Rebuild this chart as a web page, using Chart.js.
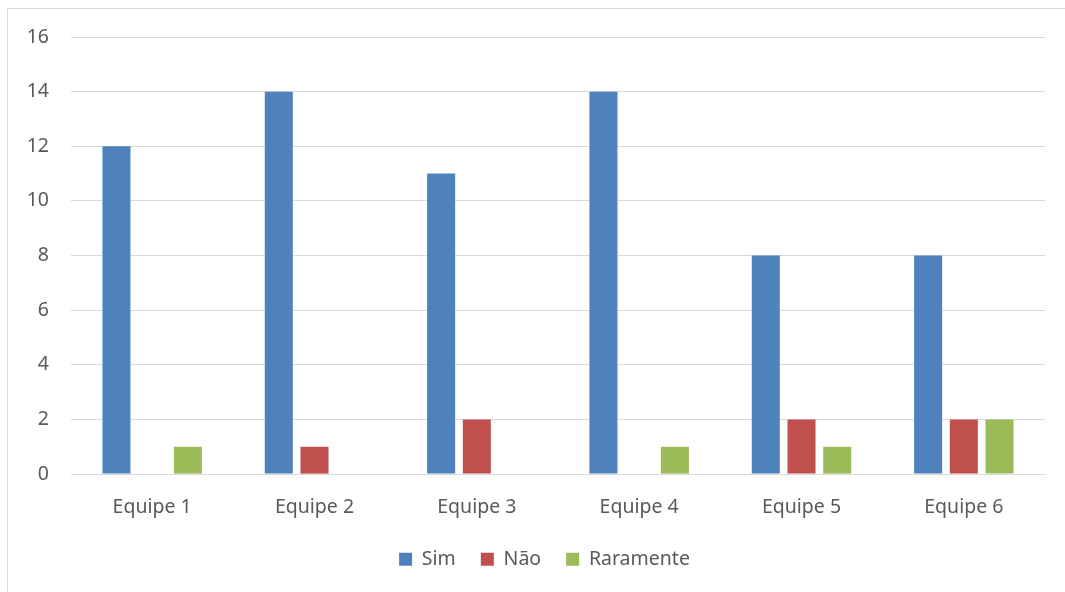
<!DOCTYPE html>
<html>
<head>
<meta charset="utf-8">
<script src="https://cdn.jsdelivr.net/npm/chart.js@4/dist/chart.umd.min.js"></script>
<style>
  html, body { margin: 0; padding: 0; background: #fff; overflow: hidden; }
  .frame { position: absolute; left: 7px; top: 8px; width: 1200px; height: 700px; border: 1px solid #d9d9d9; }
  .wrap { position: absolute; left: 0; top: 0; width: 1065px; height: 592px; }
</style>
</head>
<body>
<div class="frame"></div>
<div class="wrap"><canvas id="chart"></canvas></div>
<script>
const categories = ['Equipe 1', 'Equipe 2', 'Equipe 3', 'Equipe 4', 'Equipe 5', 'Equipe 6'];
const sim = [12, 14, 11, 14, 8, 8];
const nao = [0, 1, 2, 0, 2, 2];
const raramente = [1, 0, 0, 1, 1, 2];

const textColor = '#595959';
const gridColor = '#d9d9d9';
const font = { family: "'Noto Sans', 'Open Sans', sans-serif", size: 19.5 };

// legend sits centred under the plot area, not under the whole canvas
const legendShift = {
  id: 'legendShift',
  afterLayout(chart) {
    const lg = chart.legend;
    if (lg) {
      lg.left += 22;
      lg.right += 22;
    }
  },
};

const ctx = document.getElementById('chart').getContext('2d');
new Chart(ctx, {
  type: 'bar',
  data: {
    labels: categories,
    datasets: [
      { label: 'Sim', data: sim, backgroundColor: '#4f81bd' },
      { label: 'Não', data: nao, backgroundColor: '#c0504d' },
      { label: 'Raramente', data: raramente, backgroundColor: '#9bbb59' },
    ],
  },
  options: {
    responsive: true,
    maintainAspectRatio: false,
    animation: false,
    datasets: {
      bar: { categoryPercentage: 0.66, barPercentage: 0.785 },
    },
    layout: { padding: { left: 0, right: 20, top: 37, bottom: 13 } },
    plugins: {
      legend: {
        position: 'bottom',
        labels: {
          color: textColor,
          font: font,
          boxWidth: 13,
          boxHeight: 13,
          padding: 25,
        },
      },
      tooltip: { enabled: false },
    },
    scales: {
      x: {
        afterFit: (scale) => { scale.height -= 17; },
        grid: { display: false, drawTicks: false },
        border: { color: gridColor },
        ticks: { color: textColor, font: font, padding: 22 },
      },
      y: {
        min: 0,
        max: 16,
        afterFit: (scale) => { scale.width = 71; },
        grid: { color: gridColor, drawTicks: false },
        border: { display: false },
        ticks: { stepSize: 2, color: textColor, font: font, padding: 22 },
      },
    },
  },
  plugins: [legendShift],
});
</script>
</body>
</html>
